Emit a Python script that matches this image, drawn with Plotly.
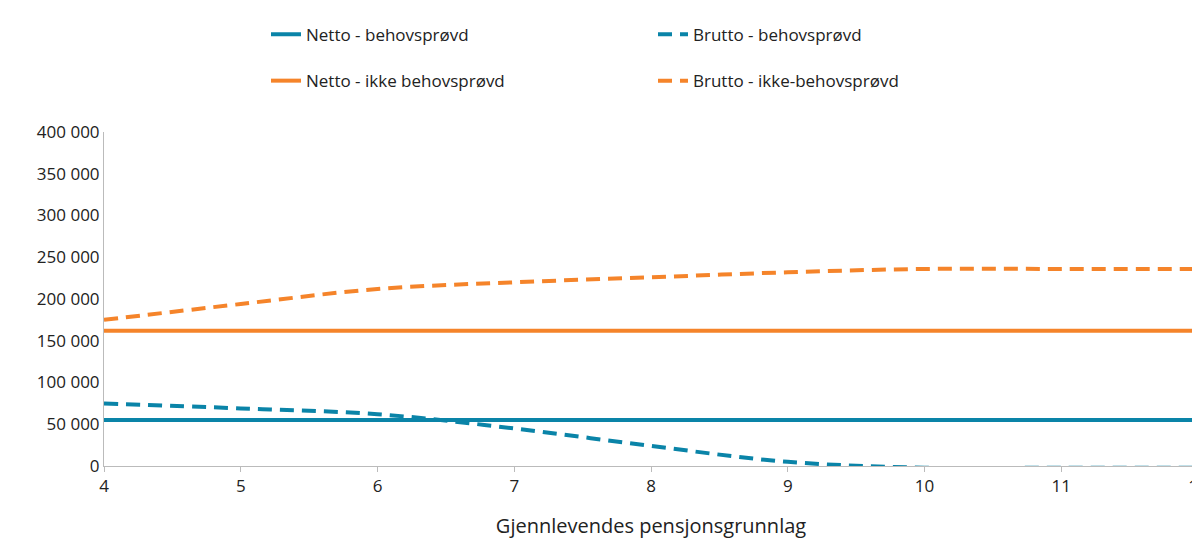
import plotly.graph_objects as go

x = [4, 5, 6, 7, 8, 9, 10, 11, 12]
netto_behov = [55000] * 9
brutto_behov = [75000, 69000, 62000, 45000, 24000, 5000, -2000, -2000, -2000]
netto_ikke = [162000] * 9
brutto_ikke = [175000, 194000, 212000, 220000, 226000, 232000, 236000, 236000, 236000]

blue = "#0a84a8"
orange = "#f5842a"
dash = "14px,8px"

fig = go.Figure()
fig.add_trace(go.Scatter(x=x, y=netto_behov, name="Netto - behovsprøvd", mode="lines",
                         line=dict(color=blue, width=4), legend="legend"))
fig.add_trace(go.Scatter(x=x, y=brutto_behov, name="Brutto - behovsprøvd", mode="lines",
                         line=dict(color=blue, width=4, dash=dash, shape="spline"), legend="legend"))
fig.add_trace(go.Scatter(x=x, y=netto_ikke, name="Netto - ikke behovsprøvd", mode="lines",
                         line=dict(color=orange, width=4), legend="legend2"))
fig.add_trace(go.Scatter(x=x, y=brutto_ikke, name="Brutto - ikke-behovsprøvd", mode="lines",
                         line=dict(color=orange, width=4, dash=dash, shape="spline"), legend="legend2"))
fig.update_traces(cliponaxis=False)

leg = dict(orientation="h", xref="container", yref="container", xanchor="left", x=0.215,
           yanchor="middle", entrywidth=342, entrywidthmode="pixels", font=dict(size=17),
           bgcolor="rgba(0,0,0,0)")
fig.update_layout(
    width=1200, height=558,
    font=dict(family="Open Sans", size=17, color="#222"),
    plot_bgcolor="white", paper_bgcolor="white",
    margin=dict(l=96, r=10, t=124, b=100, autoexpand=False),
    separators=", ",
    legend=dict(leg, y=0.952),
    legend2=dict(leg, y=0.869),
    xaxis=dict(range=[4, 12], tickvals=x, showline=True, linecolor="#bbb",
               ticks="outside", tickcolor="#bbb", ticklen=5, showgrid=False,
               zeroline=False, title=dict(text="Gjennlevendes pensjonsgrunnlag", standoff=22)),
    yaxis=dict(range=[0, 400000], dtick=50000, tickformat=",d", showline=True,
               linecolor="#bbb", showgrid=False, zeroline=False),
)
fig.write_html("out.html")
